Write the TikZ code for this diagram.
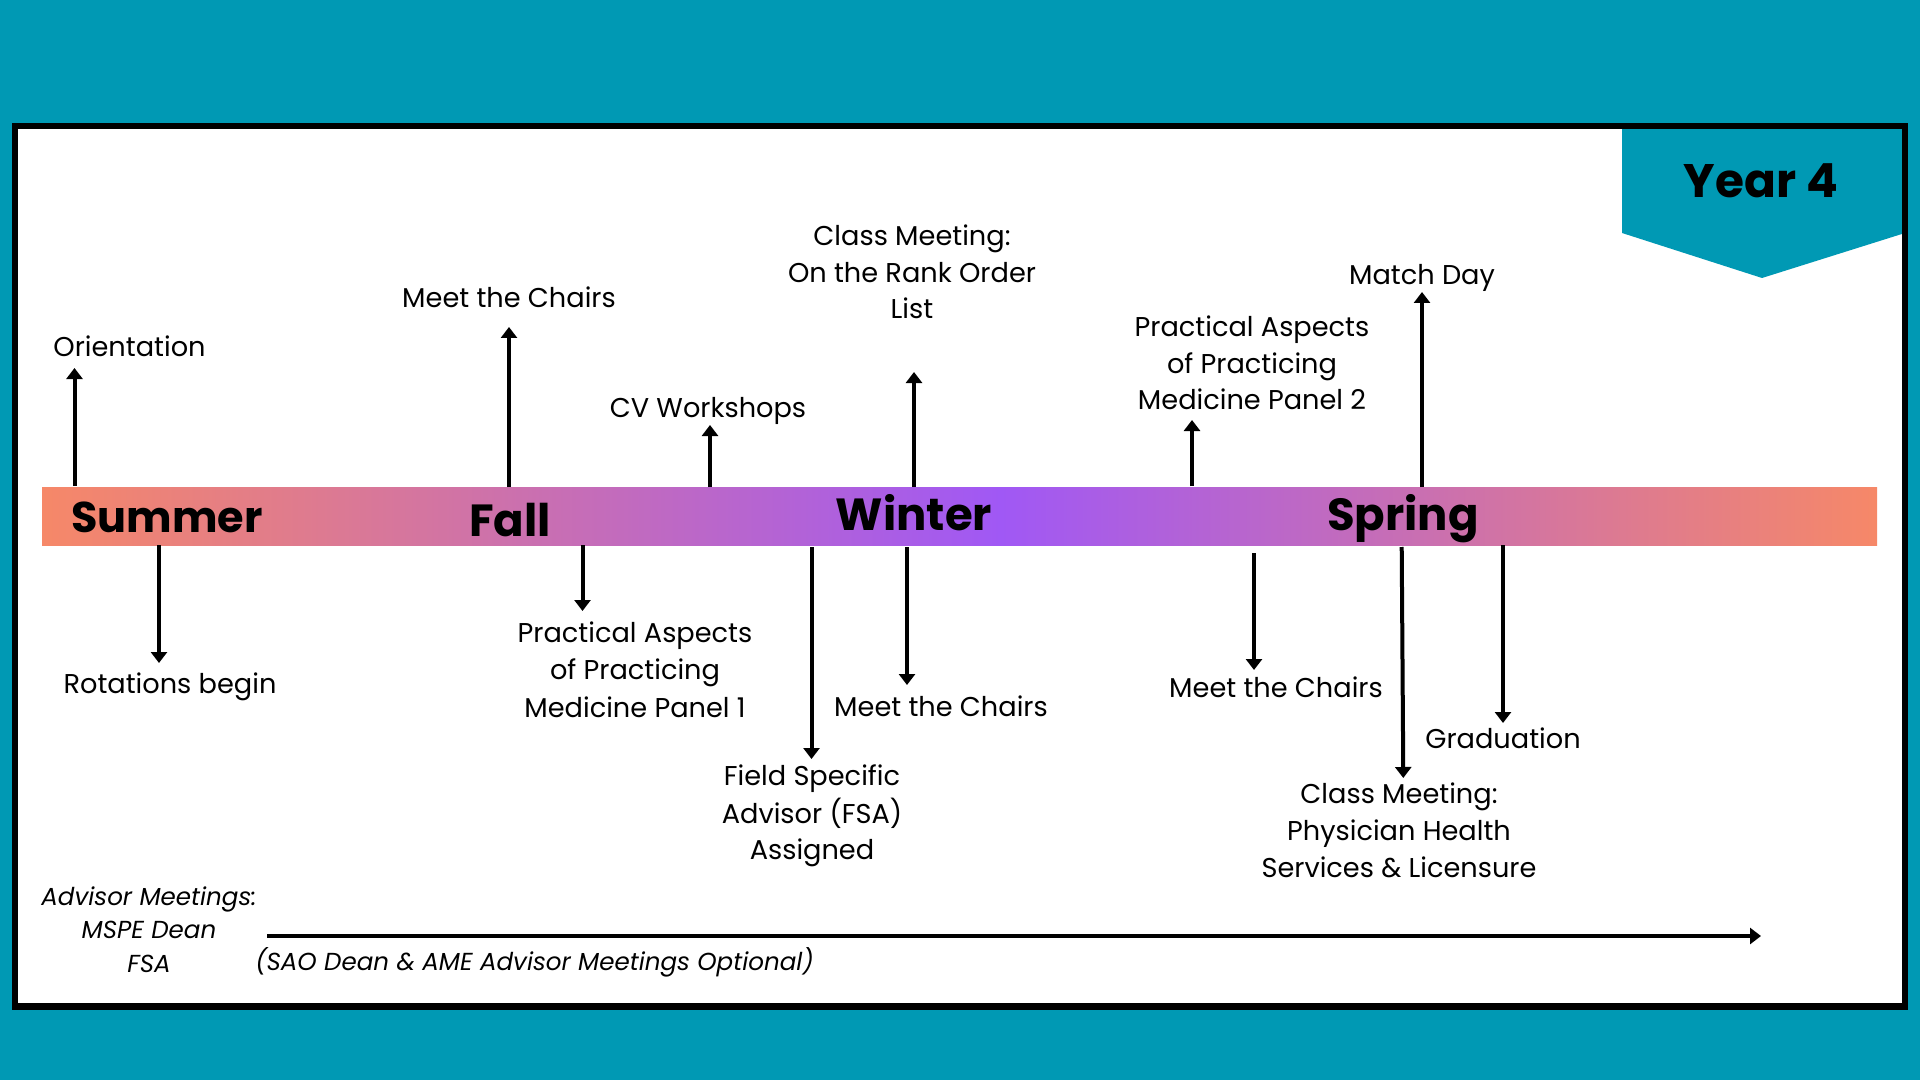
\documentclass[tikz,border=0pt]{standalone}
\usepackage{fontspec}
\setmainfont{Poppins}
\usetikzlibrary{arrows.meta}
\definecolor{teal}{RGB}{0,153,180}
\definecolor{salmon}{RGB}{246,136,104}
\definecolor{purp}{RGB}{160,88,245}
\tikzset{
  lbl/.style={inner sep=0pt, anchor=base, font=\fontsize{13.6}{15}\selectfont},
  lblw/.style={inner sep=0pt, anchor=base west, font=\fontsize{13.6}{15}\selectfont},
  season/.style={inner sep=0pt, anchor=base, font=\fontsize{22.5}{26}\selectfont\bfseries},
  ital/.style={inner sep=0pt, anchor=base, font=\fontsize{12.3}{14}\selectfont\itshape},
  evt/.style={-{Triangle[width=8pt,length=5.5pt]}, line width=2pt},
}
\begin{document}
\begin{tikzpicture}[x=0.5pt,y=-0.5pt]
\useasboundingbox (0,0) rectangle (1920,1080);
\fill[teal] (0,0) rectangle (1920,1080);
\fill[white] (15,126) rectangle (1905,1006.5);
% banner
\fill[teal] (1622,126) -- (1905,126) -- (1905,233) -- (1762,278) -- (1622,233) -- cycle;
\node[inner sep=0pt, anchor=base, font=\fontsize{23.5}{28}\selectfont\bfseries] (year) at (1761,198) {Year 4};
\draw[line width=3.25pt] (15,126) rectangle (1905,1006.5);
% bar
\fill[left color=salmon, right color=purp] (42,487) rectangle (1001,545);
\fill[left color=purp, right color=salmon] (1000,487) rectangle (1877,545);
\node[season, font=\fontsize{21.5}{26}\selectfont\bfseries] (summer) at (167,532) {Summer};
\node[season] (fall) at (510,536) {Fall};
\node[season] (winter) at (914,530) {Winter};
\node[season] (spring) at (1403,530) {Spring};
% coordinates on bar
\coordinate (b1) at (74.5,486);
\coordinate (t1) at (74.5,368);
\coordinate (b2) at (509,487);
\coordinate (t2) at (509,327);
\coordinate (b3) at (710,487);
\coordinate (t3) at (710,425);
\coordinate (b4) at (914,487);
\coordinate (t4) at (914,372);
\coordinate (b5) at (1192,486);
\coordinate (t5) at (1192,420);
\coordinate (b6) at (1422,487);
\coordinate (t6) at (1422,292);
\coordinate (b7) at (159,545);
\coordinate (t7) at (159,663);
\coordinate (b8) at (582.5,545);
\coordinate (t8) at (582.5,611);
\coordinate (b9) at (811.5,547);
\coordinate (t9) at (811.5,759);
\coordinate (b10) at (907,547);
\coordinate (t10) at (907,685);
\coordinate (b11) at (1254,553);
\coordinate (t11) at (1254,670);
\coordinate (b12) at (1401.7,547);
\coordinate (t12) at (1403.3,778);
\coordinate (b13) at (1503,545);
\coordinate (t13) at (1503,723);
\coordinate (la) at (267,936);
\coordinate (lb) at (1761,936);
\foreach \i in {1,...,13} {\draw[evt] (b\i) -- (t\i);}
\draw[evt] (la) -- (lb);
% labels above
\node[lblw] (orient) at (53,357) {Orientation};
\node[lbl] (mtc1) at (509,308) {Meet the Chairs};
\node[lbl] (cv) at (708,417) {CV Workshops};
\node[lbl] (cma) at (912,246) {Class Meeting:};
\node[lbl] (cmb) at (912,283) {On the Rank Order};
\node[lbl] (cmc) at (912,319) {List};
\node[lbl] (p2a) at (1252,336) {Practical Aspects};
\node[lbl] (p2b) at (1252,373) {of Practicing};
\node[lbl] (p2c) at (1252,409) {Medicine Panel 2};
\node[lbl] (match) at (1422,285) {Match Day};
% labels below
\node[lbl] (rot) at (170,693) {Rotations begin};
\node[lbl] (p1a) at (635,642) {Practical Aspects};
\node[lbl] (p1b) at (635,679) {of Practicing};
\node[lbl] (p1c) at (635,717) {Medicine Panel 1};
\node[lbl] (fsaa) at (812,785) {Field Specific};
\node[lbl] (fsab) at (812,823) {Advisor (FSA)};
\node[lbl] (fsac) at (812,859) {Assigned};
\node[lbl] (mtc2) at (941,716) {Meet the Chairs};
\node[lbl] (mtc3) at (1276,697) {Meet the Chairs};
\node[lbl] (phsa) at (1399,803) {Class Meeting:};
\node[lbl] (phsb) at (1399,840) {Physician Health};
\node[lbl] (phsc) at (1399,877) {Services \& Licensure};
\node[lbl] (grad) at (1503,748) {Graduation};
% advisor
\node[ital] (adva) at (149,905) {Advisor Meetings:};
\node[ital] (advb) at (149,938) {MSPE Dean};
\node[ital] (advc) at (149,972) {FSA};
\node[ital, anchor=base west] (sao) at (255,970) {(SAO Dean \& AME Advisor Meetings Optional)};
\end{tikzpicture}
\end{document}
